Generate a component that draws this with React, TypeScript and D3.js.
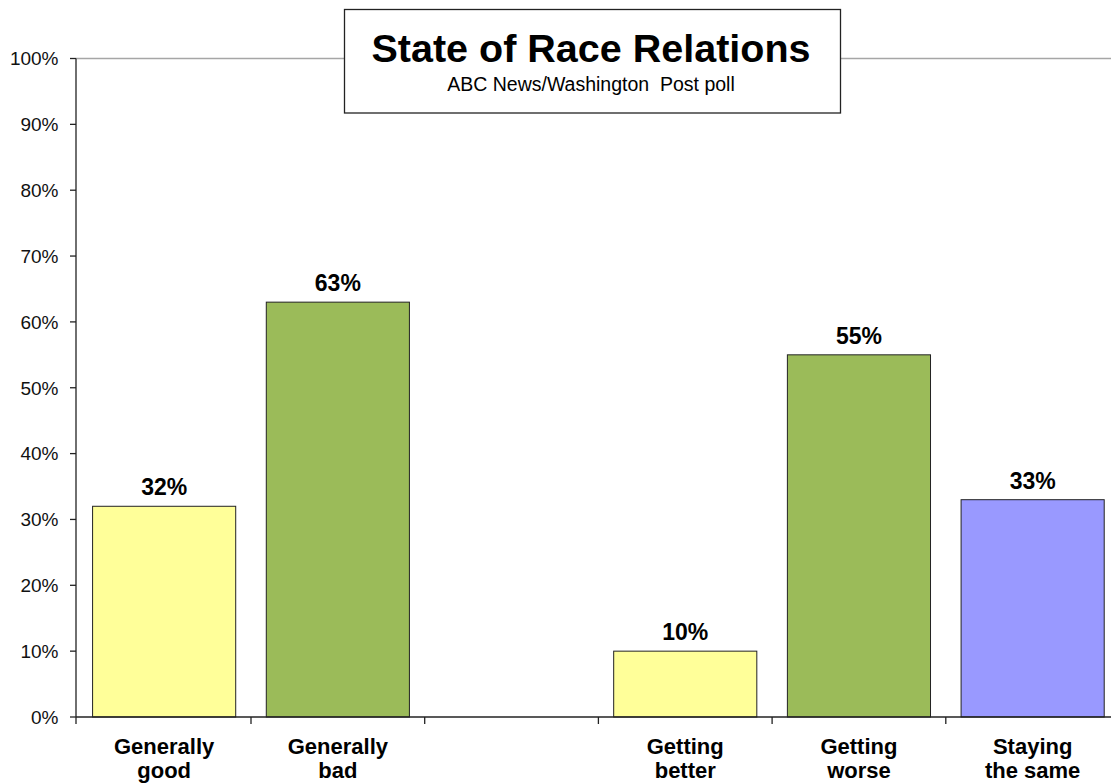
import React from "react";
import * as d3 from "d3";

const categories = ["Generally good", "Generally bad", "", "Getting better", "Getting worse", "Staying the same"];
const categoryLines = [["Generally", "good"], ["Generally", "bad"], [], ["Getting", "better"], ["Getting", "worse"], ["Staying", "the same"]];
const values: (number | null)[] = [32, 63, null, 10, 55, 33];
const barColors = ["#FFFF99", "#9BBB59", "none", "#FFFF99", "#9BBB59", "#9999FF"];
const yTicks = [0, 10, 20, 30, 40, 50, 60, 70, 80, 90, 100];
const title = "State of Race Relations";
const subtitle = "ABC News/Washington  Post poll";

const W = 1111, H = 783;
const axisX = 76, x0 = 77.3, step = 173.7;
const yTop = 58.5, yBottom = 717;

export default function App() {
  const x = d3.scaleBand<string>()
    .domain(categories.map((c, i) => c || "blank" + i))
    .range([x0, x0 + step * categories.length])
    .paddingInner(0.176)
    .paddingOuter(0.088);
  const y = d3.scaleLinear().domain([0, 100]).range([yBottom, yTop]);
  const keys = x.domain();
  const font = "'Liberation Sans', Arial, sans-serif";

  return (
    <svg width={W} height={H} style={{ position: "absolute", left: 0, top: 0, background: "#fff" }} fontFamily={font}>
      {/* top gridline */}
      <line x1={axisX} x2={W} y1={y(100)} y2={y(100)} stroke="#A6A6A6" strokeWidth={1.5} />
      {/* bars */}
      {values.map((v, i) =>
        v == null ? null : (
          <g key={i}>
            <rect
              x={x(keys[i])!}
              y={y(v)}
              width={x.bandwidth()}
              height={y(0) - y(v)}
              fill={barColors[i]}
              stroke="#222"
              strokeWidth={1}
            />
            <text x={x(keys[i])! + x.bandwidth() / 2} y={y(v) - 11} textAnchor="middle" fontSize={23} fontWeight="bold" fill="#000">
              {v}%
            </text>
          </g>
        )
      )}
      {/* y axis */}
      <line x1={axisX} x2={axisX} y1={y(100)} y2={y(0)} stroke="#222" strokeWidth={1.3} />
      {yTicks.map((t) => (
        <g key={t}>
          <line x1={axisX - 6} x2={axisX} y1={y(t)} y2={y(t)} stroke="#222" strokeWidth={1.3} />
          <text x={58.5} y={y(t)} dy="0.36em" textAnchor="end" fontSize={19} fill="#111">
            {t}%
          </text>
        </g>
      ))}
      {/* x axis */}
      <line x1={axisX} x2={W} y1={y(0)} y2={y(0)} stroke="#222" strokeWidth={1.3} />
      {d3.range(categories.length + 1).map((i) => {
        const tx = i === 0 ? axisX : x0 + step * i;
        return <line key={i} x1={tx} x2={tx} y1={y(0)} y2={y(0) + 7} stroke="#222" strokeWidth={1.3} />;
      })}
      {categoryLines.map((lines, i) => (
        <text key={i} x={x(keys[i])! + x.bandwidth() / 2} textAnchor="middle" fontSize={22} fontWeight="bold" fill="#000">
          {lines.map((l, j) => (
            <tspan key={j} x={x(keys[i])! + x.bandwidth() / 2} y={754 + j * 24}>
              {l}
            </tspan>
          ))}
        </text>
      ))}
      {/* title box */}
      <rect x={344.5} y={9.5} width={496} height={103.5} fill="#fff" stroke="#222" strokeWidth={1.3} />
      <text x={591} y={62} textAnchor="middle" fontSize={39.5} fontWeight="bold" fill="#000">
        {title}
      </text>
      <text x={591} y={90.5} textAnchor="middle" fontSize={19.5} fill="#000" style={{ whiteSpace: "pre" }}>
        {subtitle}
      </text>
    </svg>
  );
}
